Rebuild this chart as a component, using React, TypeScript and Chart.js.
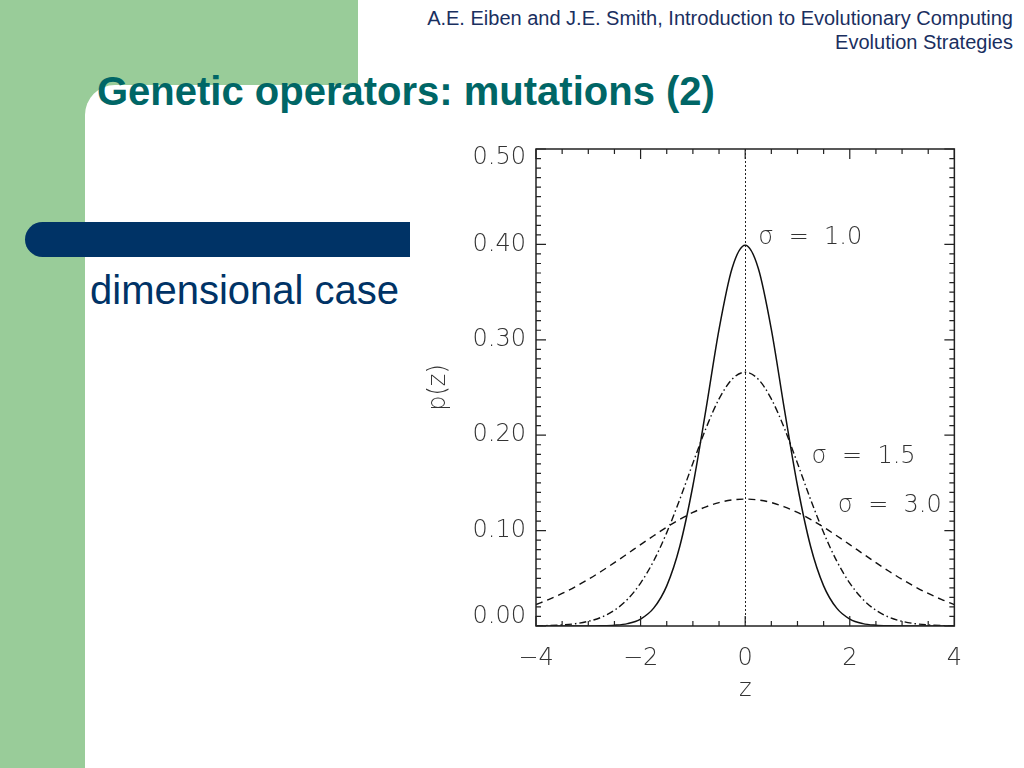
import React, { useEffect, useRef } from "react";
import { Chart, registerables } from "chart.js";

Chart.register(...registerables);

// ---- data ----
const zValues = [
  -4, -3.75, -3.5, -3.25, -3, -2.75, -2.5, -2.25, -2, -1.75, -1.5, -1.25, -1, -0.75, -0.5, -0.25,
  0, 0.25, 0.5, 0.75, 1, 1.25, 1.5, 1.75, 2, 2.25, 2.5, 2.75, 3, 3.25, 3.5, 3.75, 4,
];

const pSigma10 = [
  0, 0, 0, 0, 0, 0.0002, 0.0008, 0.0025, 0.0073, 0.0187, 0.0421, 0.0836, 0.147, 0.227, 0.311, 0.375,
  0.399, 0.375, 0.311, 0.227, 0.147, 0.0836, 0.0421, 0.0187, 0.0073, 0.0025, 0.0008, 0.0002, 0, 0, 0, 0, 0,
];

const pSigma15 = [
  0.0002, 0.0005, 0.0011, 0.0024, 0.0049, 0.0092, 0.0165, 0.028, 0.045, 0.0682, 0.0979, 0.1328, 0.1706,
  0.2072, 0.238, 0.2587, 0.266, 0.2587, 0.238, 0.2072, 0.1706, 0.1328, 0.0979, 0.0682, 0.045, 0.028,
  0.0165, 0.0092, 0.0049, 0.0024, 0.0011, 0.0005, 0.0002,
];

const pSigma30 = [
  0.0225, 0.0279, 0.0341, 0.0411, 0.0489, 0.0574, 0.0664, 0.0758, 0.0853, 0.0946, 0.1036, 0.1118, 0.119,
  0.1249, 0.1294, 0.1321, 0.133, 0.1321, 0.1294, 0.1249, 0.119, 0.1118, 0.1036, 0.0946, 0.0853, 0.0758,
  0.0664, 0.0574, 0.0489, 0.0411, 0.0341, 0.0279, 0.0225,
];

const seriesLabels = ["σ  =  1.0", "σ  =  1.5", "σ  =  3.0"];
const xTickValues = [-4, -2, 0, 2, 4];
const xTickLabels = ["−4", "−2", "0", "2", "4"];
const yTickLabels = ["0.00", "0.10", "0.20", "0.30", "0.40", "0.50"];
const xTitle = "z";
const yTitle = "p(z)";

const FONT_FAMILY = '"DejaVu Sans", "Liberation Sans", sans-serif';
const INK = "#333";

const framePlugin = {
  id: "idlFrame",
  beforeDatasetsDraw(chart: any) {
    const { ctx, chartArea, scales } = chart;
    const px = scales.x.getPixelForValue(0);
    ctx.save();
    ctx.strokeStyle = "#222";
    ctx.lineWidth = 1;
    ctx.setLineDash([2, 2]);
    ctx.beginPath();
    ctx.moveTo(Math.round(px) + 0.5, chartArea.top);
    ctx.lineTo(Math.round(px) + 0.5, chartArea.bottom);
    ctx.stroke();
    ctx.restore();
  },
  afterDatasetsDraw(chart: any) {
    const { ctx, chartArea, scales } = chart;
    const { left, right, top, bottom } = chartArea;
    ctx.save();
    ctx.strokeStyle = "#222";
    ctx.lineWidth = 1.5;
    ctx.setLineDash([]);
    ctx.strokeRect(left, top, right - left, bottom - top);
    ctx.lineWidth = 1.2;
    ctx.beginPath();
    for (let i = 0; i <= 16; i++) {
      const v = -4 + i * 0.5;
      const x = scales.x.getPixelForValue(v);
      const len = i % 4 === 0 ? 10 : 5;
      ctx.moveTo(x, bottom);
      ctx.lineTo(x, bottom - len);
      ctx.moveTo(x, top);
      ctx.lineTo(x, top + len);
    }
    for (let i = 0; i <= 50; i++) {
      const y = scales.y.getPixelForValue(i / 100);
      const len = i % 10 === 0 ? 10 : 5;
      ctx.moveTo(left, y);
      ctx.lineTo(left + len, y);
      ctx.moveTo(right, y);
      ctx.lineTo(right - len, y);
    }
    ctx.stroke();

    // curve labels
    ctx.fillStyle = INK;
    ctx.font = `200 24px ${FONT_FAMILY}`;
    ctx.textAlign = "left";
    ctx.textBaseline = "middle";
    const anchors = [
      [0.25, 0.407],
      [1.27, 0.177],
      [1.77, 0.126],
    ];
    anchors.forEach(([zx, py], i) => {
      ctx.fillText(seriesLabels[i], scales.x.getPixelForValue(zx), scales.y.getPixelForValue(py));
    });
    ctx.restore();
  },
};

export default function App() {
  const canvasRef = useRef<HTMLCanvasElement>(null);

  useEffect(() => {
    document.body.style.margin = "0";
    const tickFont = { family: FONT_FAMILY, size: 24, weight: 200 as any };
    const mk = (vals: number[]) => zValues.map((z, i) => ({ x: z, y: vals[i] }));
    const chart = new Chart(canvasRef.current as HTMLCanvasElement, {
      type: "line",
      data: {
        datasets: [
          {
            label: seriesLabels[0],
            data: mk(pSigma10),
            borderColor: "#111",
            borderWidth: 1.5,
            pointRadius: 0,
            cubicInterpolationMode: "monotone",
          },
          {
            label: seriesLabels[1],
            data: mk(pSigma15),
            borderColor: "#111",
            borderWidth: 1.4,
            borderDash: [7, 3, 1.5, 3],
            pointRadius: 0,
            cubicInterpolationMode: "monotone",
          },
          {
            label: seriesLabels[2],
            data: mk(pSigma30),
            borderColor: "#111",
            borderWidth: 1.4,
            borderDash: [7, 5],
            pointRadius: 0,
            cubicInterpolationMode: "monotone",
          },
        ],
      },
      options: {
        animation: false,
        responsive: false,
        layout: { padding: { top: 14, right: 23, left: 0, bottom: 0 } },
        plugins: { legend: { display: false }, tooltip: { enabled: false } },
        scales: {
          x: {
            type: "linear",
            min: -4,
            max: 4,
            grid: { display: false, drawTicks: false },
            border: { display: false },
            afterBuildTicks: (s: any) => {
              s.ticks = xTickValues.map((v) => ({ value: v }));
            },
            ticks: {
              color: INK,
              font: tickFont,
              padding: 18,
              maxRotation: 0,
              autoSkip: false,
              callback: (v: any) => xTickLabels[xTickValues.indexOf(Number(v))] ?? "",
            },
            title: {
              display: true,
              text: xTitle,
              color: INK,
              font: tickFont,
              padding: { top: 0, bottom: 6 },
            },
            afterFit: (s: any) => {
              s.height = 84;
            },
          },
          y: {
            type: "linear",
            min: 0,
            max: 0.5,
            grid: { display: false, drawTicks: false },
            border: { display: false },
            ticks: {
              stepSize: 0.1,
              color: INK,
              font: { ...tickFont, lineHeight: 0.75 },
              padding: 10,
              callback: (v: any) => {
                const idx = Math.round(Number(v) * 10);
                const t = yTickLabels[idx] ?? "";
                if (idx === 0) return [t, ""];
                if (idx === yTickLabels.length - 1) return ["", t];
                return t;
              },
            },
            title: {
              display: true,
              text: yTitle,
              color: INK,
              font: tickFont,
              padding: { top: 4, bottom: 0 },
            },
            afterFit: (s: any) => {
              s.width = 116;
            },
          },
        },
      } as any,
      plugins: [framePlugin],
    });
    return () => chart.destroy();
  }, []);

  const sans = '"Liberation Sans", Arial, sans-serif';
  return (
    <div
      style={{
        position: "relative",
        width: 1024,
        height: 768,
        background: "#fff",
        overflow: "hidden",
        fontFamily: sans,
      }}
    >
      <div style={{ position: "absolute", left: 0, top: 0, width: 85, height: 768, background: "#99cc99" }} />
      <div style={{ position: "absolute", left: 0, top: 0, width: 358, height: 130, background: "#99cc99" }} />
      <div
        style={{
          position: "absolute",
          left: 85,
          top: 85,
          width: 400,
          height: 200,
          background: "#fff",
          borderTopLeftRadius: 30,
        }}
      />
      <div
        style={{
          position: "absolute",
          right: 11,
          top: 6,
          textAlign: "right",
          fontSize: 20,
          lineHeight: "24px",
          color: "#1a2f5f",
          whiteSpace: "nowrap",
        }}
      >
        A.E. Eiben and J.E. Smith, Introduction to Evolutionary Computing
        <br />
        Evolution Strategies
      </div>
      <div
        style={{
          position: "absolute",
          left: 97,
          top: 71,
          fontSize: 40,
          lineHeight: "40px",
          fontWeight: "bold",
          color: "#006666",
          whiteSpace: "nowrap",
        }}
      >
        Genetic operators: mutations (2)
      </div>
      <div
        style={{
          position: "absolute",
          left: 90,
          top: 223,
          width: 307,
          textAlign: "center",
          fontSize: 40,
          lineHeight: "40px",
          color: "#003366",
          whiteSpace: "nowrap",
        }}
      >
        The one
      </div>
      <div
        style={{
          position: "absolute",
          left: 25,
          top: 222,
          width: 385,
          height: 35,
          background: "#003366",
          borderRadius: "17.5px 0 0 17.5px",
        }}
      />
      <div
        style={{
          position: "absolute",
          left: 90,
          top: 270,
          fontSize: 40,
          lineHeight: "40px",
          color: "#003366",
          whiteSpace: "nowrap",
        }}
      >
        dimensional case
      </div>
      <canvas
        ref={canvasRef}
        width={560}
        height={589}
        style={{ position: "absolute", left: 420, top: 121, width: 560, height: 589 }}
      />
    </div>
  );
}
